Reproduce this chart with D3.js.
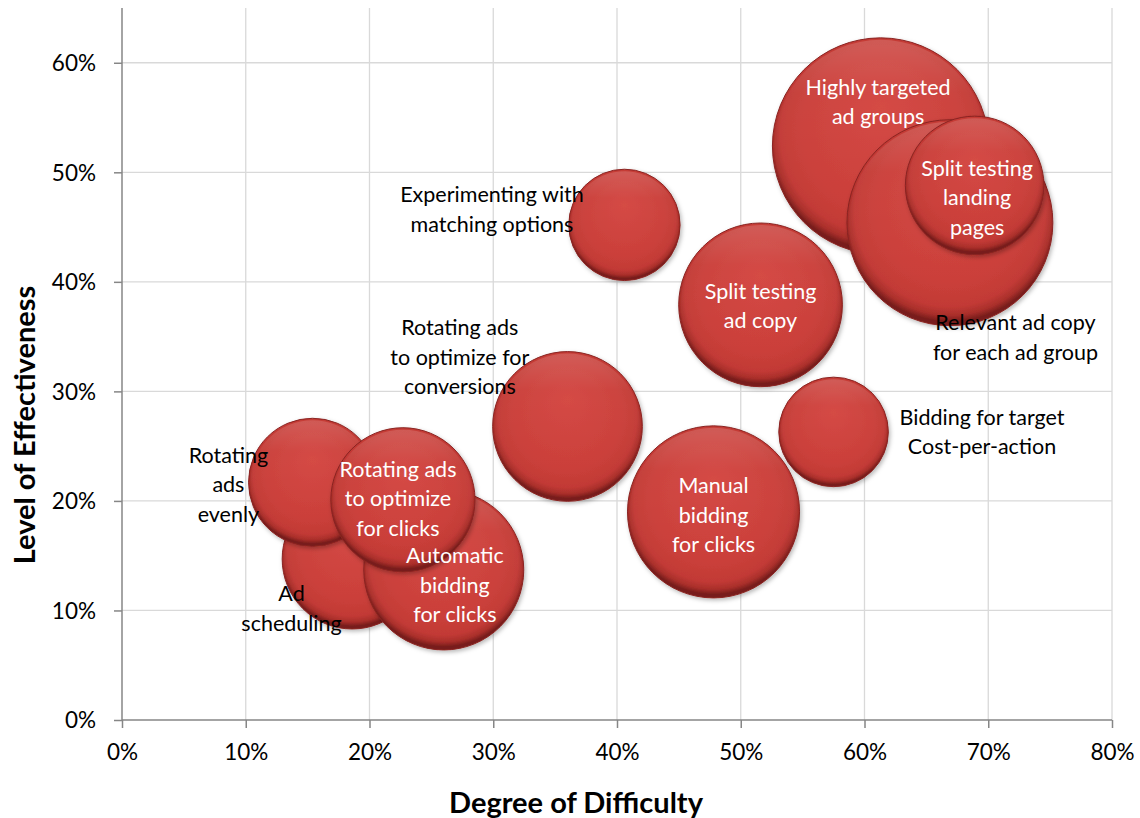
<!DOCTYPE html>
<html>
<head>
<meta charset="utf-8">
<script src="https://cdn.jsdelivr.net/npm/d3@7"></script>
<style>
  html, body { margin: 0; padding: 0; background: #fff; }
  svg { display: block; font-family: Lato, "Open Sans", sans-serif; }
</style>
</head>
<body>
<svg id="chart" width="1140" height="818"></svg>
<script>
// ---- Data (drawing order matters for overlaps) ----
const names = [
  "Highly targeted ad groups",
  "Relevant ad copy for each ad group",
  "Split testing landing pages",
  "Experimenting with matching options",
  "Split testing ad copy",
  "Bidding for target Cost-per-action",
  "Manual bidding for clicks",
  "Rotating ads to optimize for conversions",
  "Ad scheduling",
  "Rotating ads evenly",
  "Automatic bidding for clicks",
  "Rotating ads to optimize for clicks"
];
const difficulty    = [0.613, 0.669, 0.689, 0.406, 0.516, 0.575, 0.478, 0.360, 0.186, 0.154, 0.260, 0.227];
const effectiveness = [0.524, 0.454, 0.488, 0.452, 0.379, 0.263, 0.190, 0.268, 0.147, 0.217, 0.137, 0.201];
const bubbleSize    = [117, 106, 48, 31, 67, 30, 74, 56, 49, 41, 64, 52];
const labelLines = [
  ["Highly targeted", "ad groups"],
  ["Relevant ad copy", "for each ad group"],
  ["Split testing", "landing", "pages"],
  ["Experimenting with", "matching options"],
  ["Split testing", "ad copy"],
  ["Bidding for target", "Cost-per-action"],
  ["Manual", "bidding", "for clicks"],
  ["Rotating ads", "to optimize for", "conversions"],
  ["Ad", "scheduling"],
  ["Rotating", "ads", "evenly"],
  ["Automatic", "bidding", "for clicks"],
  ["Rotating ads", "to optimize", "for clicks"]
];
const labelInside = [true, false, true, false, true, false, true, false, false, false, true, true];
const labelDx = [-0.002, 0.053, 0.002, -0.107, 0.000, 0.120, 0.000, -0.087, -0.049, -0.068, 0.009, -0.004];
const labelDy = [0.040, -0.105, -0.011, 0.014, -0.001, 0.000, -0.003, 0.063, -0.045, -0.002, -0.014, 0.001];

const xTicks = [0, 0.1, 0.2, 0.3, 0.4, 0.5, 0.6, 0.7, 0.8];
const yTicks = [0, 0.1, 0.2, 0.3, 0.4, 0.5, 0.6];
const xTitle = "Degree of Difficulty";
const yTitle = "Level of Effectiveness";

(function () {
const svg = d3.select("#chart");
const pLeft = 122, pRight = 1112, pTop = 8, pBottom = 720;
const x = d3.scaleLinear().domain([0, 0.8]).range([pLeft, pRight]);
const y = d3.scaleLinear().domain([0, 0.65]).range([pBottom, pTop]);
const r = d3.scaleSqrt().domain([0, 100]).range([0, 100]);

const defs = svg.append("defs");
const grad = defs.append("radialGradient").attr("id", "bub")
  .attr("cx", "50%").attr("cy", "46%").attr("r", "52%").attr("fx", "50%").attr("fy", "32%");
grad.append("stop").attr("offset", "0%").attr("stop-color", "#d3443e");
grad.append("stop").attr("offset", "70%").attr("stop-color", "#ca3d38");
grad.append("stop").attr("offset", "89%").attr("stop-color", "#c23934");
grad.append("stop").attr("offset", "95.5%").attr("stop-color", "#a92e2a");
grad.append("stop").attr("offset", "100%").attr("stop-color", "#781d1b");
const hl = defs.append("linearGradient").attr("id", "hl").attr("x1", 0).attr("y1", 0).attr("x2", 0).attr("y2", 1);
hl.append("stop").attr("offset", "0%").attr("stop-color", "#fff").attr("stop-opacity", 0.16);
hl.append("stop").attr("offset", "25%").attr("stop-color", "#fff").attr("stop-opacity", 0.04);
hl.append("stop").attr("offset", "100%").attr("stop-color", "#fff").attr("stop-opacity", 0);
const sh = defs.append("filter").attr("id", "shadow").attr("x", "-20%").attr("y", "-20%").attr("width", "140%").attr("height", "140%");
sh.append("feDropShadow").attr("dx", 1.5).attr("dy", 2).attr("stdDeviation", 2)
  .attr("flood-color", "#000").attr("flood-opacity", 0.28);

// gridlines
svg.append("g").selectAll("line").data(xTicks.slice(1)).join("line")
  .attr("x1", d => x(d)).attr("x2", d => x(d)).attr("y1", pTop).attr("y2", pBottom)
  .attr("stroke", "#d9d9d9").attr("stroke-width", 1.3);
svg.append("g").selectAll("line").data(yTicks.slice(1)).join("line")
  .attr("x1", pLeft).attr("x2", pRight).attr("y1", d => y(d)).attr("y2", d => y(d))
  .attr("stroke", "#d9d9d9").attr("stroke-width", 1.3);

// axes
const fmt = d3.format(".0%");
const xAxis = svg.append("g").attr("transform", `translate(0,${pBottom})`)
  .call(d3.axisBottom(x).tickValues(xTicks).tickFormat(fmt).tickSize(8).tickPadding(16));
const yAxis = svg.append("g").attr("transform", `translate(${pLeft},0)`)
  .call(d3.axisLeft(y).tickValues(yTicks).tickFormat(fmt).tickSize(8).tickPadding(18));
[xAxis, yAxis].forEach(g => {
  g.select(".domain").attr("stroke", "#868686").attr("stroke-width", 1.5);
  g.selectAll(".tick line").attr("stroke", "#868686").attr("stroke-width", 1.5);
  g.selectAll(".tick text").attr("fill", "#000").style("font-size", "22.5px").style("font-family", "Lato, sans-serif");
});
xAxis.select(".domain").attr("d", `M${pLeft},0H${pRight}`);
yAxis.select(".domain").attr("d", `M0,${pTop}V${pBottom}`);
xAxis.selectAll(".tick text").attr("dy", "0.71em");
yAxis.selectAll(".tick text").attr("dy", "0.35em");

// bubbles
const data = names.map((n, i) => ({
  n, x: difficulty[i], y: effectiveness[i], s: bubbleSize[i],
  lines: labelLines[i], inside: labelInside[i], dx: labelDx[i], dy: labelDy[i]
}));
const bg = svg.append("g");
data.forEach(d => {
  const g = bg.append("g");
  g.append("circle").attr("cx", x(d.x)).attr("cy", y(d.y)).attr("r", r(d.s))
    .attr("fill", "url(#bub)").attr("stroke", "#8a2421").attr("stroke-width", 1)
    .attr("filter", "url(#shadow)");
  g.append("circle").attr("cx", x(d.x)).attr("cy", y(d.y)).attr("r", r(d.s) - 2)
    .attr("fill", "url(#hl)");
});

// labels
const lh = 29.5;
const lg = svg.append("g");
data.forEach(d => {
  const cx = x(d.x + d.dx), cy = y(d.y + d.dy);
  const n = d.lines.length;
  const t = lg.append("text").attr("text-anchor", "middle")
    .attr("fill", d.inside ? "#fff" : "#000")
    .style("font-size", "21.5px");
  d.lines.forEach((ln, k) => {
    t.append("tspan").attr("x", cx).attr("y", cy + (k - (n - 1) / 2) * lh).attr("dy", "0.35em").text(ln);
  });
});

// titles
svg.append("text").attr("x", 576).attr("y", 813).attr("text-anchor", "middle")
  .style("font-size", "29px").style("font-weight", "bold").text(xTitle);
svg.append("text").attr("transform", "translate(35,425) rotate(-90)").attr("text-anchor", "middle")
  .style("font-size", "29px").style("font-weight", "bold").text(yTitle);
})();
</script>
</body>
</html>
